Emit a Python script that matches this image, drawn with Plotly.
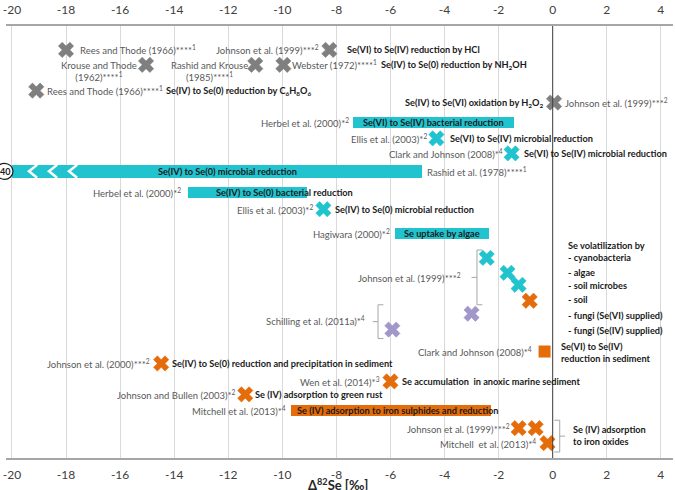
import plotly.graph_objects as go

# ---------------- data (x = Δ82Se ‰, row = vertical slot) ----------------
ticks = list(range(-20, 5, 2))

gray_x = [-18.0, -8.26, -15.04, -11.0, -9.96, -19.1, 0.05]
gray_row = [1.6, 1.6, 2.6, 2.6, 2.6, 4.33, 5.13]

cyan_x = [-4.30, -1.52, -8.48, -2.44, -1.67, -1.26]
cyan_row = [7.53, 8.53, 12.27, 15.53, 16.53, 17.33]

purple_x = [-3.0, -5.93]
purple_row = [19.27, 20.33]

orange_x = [-0.85, -14.48, -6.0, -11.37, -1.26, -0.63, -0.19]
orange_row = [18.4, 22.6, 23.8, 24.67, 26.93, 26.93, 27.93]

square_x = [-0.30]
square_row = [21.8]

cyan_bar_start = [-7.37, -20.0, -13.48, -5.85]
cyan_bar_end = [-1.44, -4.85, -9.07, -2.37]
cyan_bar_row = [6.47, 9.73, 11.13, 13.87]
cyan_bar_thick = [0.72, 0.85, 0.74, 0.74]

orange_bar_start = [-9.67]
orange_bar_end = [-2.30]
orange_bar_row = [25.73]

chevron_x = [-19.37, -18.63, -17.89]

YMIN, YMAX = 0.0, 28.93

GRAY = "#7f7f7f"
CYAN = "#21c4ce"
PURPLE = "#a297cb"
ORANGE = "#e46c0a"
TXT_GRAY = "#595959"
TXT_DARK = "#1a1a1a"
FONT = "Lato"
FS = 9.5
FSB = 9.2

fig = go.Figure()

# bars
fig.add_trace(go.Bar(
    orientation="h",
    base=cyan_bar_start,
    x=[e - s for s, e in zip(cyan_bar_start, cyan_bar_end)],
    y=cyan_bar_row, width=cyan_bar_thick,
    marker=dict(color=CYAN, line=dict(width=0)),
    hoverinfo="skip", showlegend=False))
fig.add_trace(go.Bar(
    orientation="h",
    base=orange_bar_start,
    x=[e - s for s, e in zip(orange_bar_start, orange_bar_end)],
    y=orange_bar_row, width=[0.72],
    marker=dict(color=ORANGE, line=dict(width=0)),
    hoverinfo="skip", showlegend=False))

# chevrons on the long bar
big_row = cyan_bar_row[1]
for cx in chevron_x:
    fig.add_trace(go.Scatter(
        x=[cx + 0.3, cx, cx + 0.3],
        y=[big_row - 0.43, big_row, big_row + 0.43],
        mode="lines", line=dict(color="white", width=2.5),
        hoverinfo="skip", showlegend=False))

def xs(xv, yv, color):
    fig.add_trace(go.Scatter(
        x=xv, y=yv, mode="markers",
        marker=dict(symbol="x", size=13.5, color=color,
                    line=dict(width=0.6, color=color)),
        hoverinfo="skip", showlegend=False))

xs(gray_x, gray_row, GRAY)
xs(cyan_x, cyan_row, CYAN)
xs(purple_x, purple_row, PURPLE)
xs(orange_x, orange_row, ORANGE)

fig.add_trace(go.Scatter(
    x=square_x, y=square_row, mode="markers",
    marker=dict(symbol="square", size=12, color=ORANGE),
    hoverinfo="skip", showlegend=False))

# top axis mirror trace
fig.add_trace(go.Scatter(x=[ticks[0], ticks[-1]], y=[YMIN, YMIN], xaxis="x2",
                         mode="markers", marker=dict(opacity=0),
                         hoverinfo="skip", showlegend=False))

ann = []

def note(x, y, text, anchor="left", bold=False, color=None, size=None, align="left"):
    if bold:
        text = "<b>" + text + "</b>"
    if size is None:
        size = FSB if bold else FS
    ann.append(dict(x=x, y=y, xref="x", yref="y", text=text, showarrow=False,
                    xanchor=anchor, yanchor="middle", align=align,
                    font=dict(family=FONT, size=size,
                              color=color or (TXT_DARK if bold else TXT_GRAY))))

# gray block
note(-17.56, 1.6, "Rees and Thode (1966)****<sup>1</sup>")
note(-8.56, 1.6, "Johnson et al. (1999)***<sup>2</sup>", "right")
note(-7.7, 1.6, "Se(VI) to Se(IV) reduction by HCl", bold=True)
note(-16.78, 3.07, "Krouse and Thode<br>(1962)****<sup>1</sup>", "center", align="center")
note(-12.68, 3.07, "Rashid and Krouse<br>(1985)****<sup>1</sup>", "center", align="center")
note(-9.72, 2.6, "Webster (1972)****<sup>1</sup>")
note(-6.41, 2.6, "Se(IV) to Se(0) reduction by NH<sub>2</sub>OH", bold=True)
note(-18.78, 4.33, "Rees and Thode (1966)****<sup>1</sup>")
note(-14.37, 4.33, "Se(IV) to Se(0) reduction by C<sub>6</sub>H<sub>8</sub>O<sub>6</sub>", bold=True)
note(-0.26, 5.13, "Se(IV) to Se(VI) oxidation by H<sub>2</sub>O<sub>2</sub>", "right", bold=True)
note(0.37, 5.13, "Johnson et al. (1999)***<sup>2</sup>")

# cyan block
note(-7.45, 6.47, "Herbel et al. (2000)*<sup>2</sup>", "right")
note((cyan_bar_start[0] + cyan_bar_end[0]) / 2, 6.47, "Se(VI) to Se(IV) bacterial reduction", "center", bold=True)
note(-4.56, 7.53, "Ellis et al. (2003)*<sup>2</sup>", "right")
note(-3.89, 7.53, "Se(VI) to Se(IV) microbial reduction", bold=True)
note(-1.78, 8.53, "Clark and Johnson (2008)*<sup>4</sup>", "right")
note(-1.15, 8.53, "Se(VI) to Se(IV) microbial reduction", bold=True)
note(-12.04, 9.73, "Se(IV) to Se(0) microbial reduction", "center", bold=True)
note(-4.74, 9.73, "Rashid et al. (1978)****<sup>1</sup>")
note(-13.67, 11.13, "Herbel et al. (2000)*<sup>2</sup>", "right")
note(-12.52, 11.13, "Se(IV) to Se(0) bacterial reduction", bold=True)
note(-8.78, 12.27, "Ellis et al. (2003)*<sup>2</sup>", "right")
note(-8.11, 12.27, "Se(IV) to Se(0) microbial reduction", bold=True)
note(-5.96, 13.87, "Hagiwara (2000)*<sup>2</sup>", "right")
note((cyan_bar_start[3] + cyan_bar_end[3]) / 2, 13.87, "Se uptake by algae", "center", bold=True)
note(-3.32, 16.87, "Johnson et al. (1999)***<sup>2</sup>", "right")
note(-6.85, 19.73, "Schilling et al. (2011a)*<sup>4</sup>", "right")

vol = ["Se volatilization by", "- cyanobacteria", "- algae", "- soil microbes",
       "- soil", "- fungi (Se(VI) supplied)", "- fungi (Se(IV) supplied)"]
vol_row = [14.73, 15.53, 16.53, 17.4, 18.33, 19.4, 20.4]
for t, r in zip(vol, vol_row):
    note(0.48, r, t, bold=True)

# orange block
note(-0.68, 21.8, "Clark and Johnson (2008)*<sup>4</sup>", "right")
note(0.22, 21.87, "Se(VI) to Se(IV)<br>reduction in sediment", bold=True)
note(-14.81, 22.6, "Johnson et al. (2000)***<sup>2</sup>", "right")
note(-14.15, 22.6, "Se(IV) to Se(0) reduction and precipitation in sediment", bold=True)
note(-6.33, 23.8, "Wen et al. (2014)*<sup>3</sup>", "right")
note(-5.63, 23.8, "Se accumulation  in anoxic marine sediment", bold=True)
note(-11.63, 24.67, "Johnson and Bullen (2003)*<sup>2</sup>", "right")
note(-11.07, 24.67, "Se (IV) adsorption to green rust", bold=True)
note(-9.78, 25.73, "Mitchell et al. (2013)*<sup>4</sup>", "right")
note(-9.52, 25.73, "Se (IV) adsorption to iron sulphides and reduction", bold=True)
note(-1.52, 26.93, "Johnson et al. (1999)***<sup>2</sup>", "right")
note(-0.56, 27.93, "Mitchell  et al. (2013)*<sup>4</sup>", "right")
note(0.68, 27.4, "Se (IV) adsorption<br>to iron oxides", bold=True)

# axis title
ann.append(dict(x=0.5, y=0, xref="paper", yref="paper", yshift=-16, yanchor="top",
                xshift=-2,
                text="<b>Δ<sup>82</sup>Se [‰]</b>", showarrow=False,
                font=dict(family=FONT, size=13, color="#262626")))

# "40" circle label at the left end of the long bar
py = 1 - (big_row - YMIN) / (YMAX - YMIN)
ann.append(dict(x=0, y=py, xref="paper", yref="paper", xshift=-1,
                text="<b>40</b>", showarrow=False, xanchor="center", yanchor="middle",
                font=dict(family=FONT, size=9, color="#1a1a1a")))

shapes = []
# zero line
shapes.append(dict(type="line", xref="x", yref="paper", x0=0, x1=0, y0=0, y1=1,
                   line=dict(color="#404040", width=1), layer="above"))
# circle
shapes.append(dict(type="circle", xref="paper", yref="paper", xsizemode="pixel",
                   ysizemode="pixel", xanchor=0, yanchor=py, x0=-10, x1=7, y0=-8, y1=8,
                   fillcolor="white", line=dict(color="#1a1a1a", width=1.2), layer="above"))

BR = "#a6a6a6"
def seg(x0, y0, x1, y1):
    shapes.append(dict(type="line", xref="x", yref="y", x0=x0, y0=y0, x1=x1, y1=y1,
                       line=dict(color=BR, width=1)))

def brace_left(x, top, bot, d=0.2):
    mid = (top + bot) / 2
    seg(x + d, top, x, top); seg(x, top, x, bot); seg(x, bot, x + d, bot)
    seg(x - d, mid, x, mid)

def brace_right(x, top, bot, d=0.2):
    mid = (top + bot) / 2
    seg(x - d, top, x, top); seg(x, top, x, bot); seg(x, bot, x - d, bot)
    seg(x + d, mid, x, mid)

brace_left(-2.8, 15.0, 18.67)
brace_left(-6.46, 18.67, 20.93)
brace_right(0.26, 26.4, 28.53)

AX = dict(range=[-20.22, 4.45], tickvals=ticks, ticktext=[str(t) for t in ticks],
          tickfont=dict(family=FONT, size=12, color="#404040"),
          showline=True, linecolor="#a6a6a6", linewidth=1.5,
          ticks="outside", ticklen=5, tickcolor="rgba(0,0,0,0)",
          zeroline=False, fixedrange=True)

fig.update_layout(
    width=675, height=490,
    margin=dict(l=6, r=2, t=24, b=32),
    paper_bgcolor="white", plot_bgcolor="white",
    bargap=0, barmode="overlay",
    xaxis=dict(**AX, showgrid=True, gridcolor="#d9d9d9", gridwidth=1, side="bottom",
               tickprefix="<b>", ticksuffix="</b>"),
    xaxis2=dict(**AX, showgrid=False, side="top", overlaying="x", matches="x",
                tickprefix="<b>", ticksuffix="</b>"),
    yaxis=dict(range=[YMAX, YMIN], visible=False, fixedrange=True),
    annotations=ann, shapes=shapes,
)

fig.write_html("out.html")
